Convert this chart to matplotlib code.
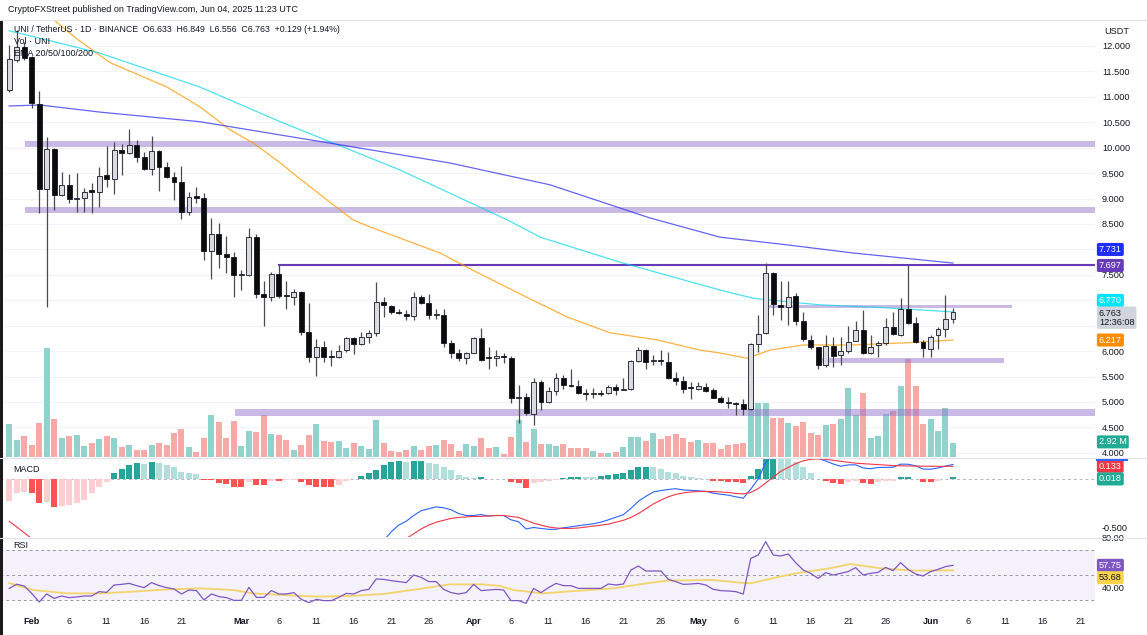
"""UNI/USDT daily chart, TradingView style: candles, volume, EMAs, zones, MACD and RSI."""

import matplotlib
matplotlib.use("Agg")
import matplotlib.pyplot as plt
import matplotlib.transforms as mtransforms
from matplotlib.patches import Rectangle
from matplotlib.lines import Line2D
import numpy as np
import pandas as pd

plt.rcParams.update({
    "font.family": ["Liberation Sans", "DejaVu Sans"],
    "font.size": 6.8,
})

W, H = 1147, 635
INK = "#131722"

# ── Data ────────────────────────────────────────────────────────────────
start = "2025-01-29"

opens = [11.14, 11.72, 11.98, 11.78, 10.86, 9.19, 9.97, 9.07, 9.27, 8.99,
         9.01, 9.16, 9.13, 9.46, 9.38, 9.95, 9.90, 10.05, 9.82, 9.58,
         9.94, 9.62, 9.42, 9.33, 8.74, 9.04, 9.02, 7.97, 8.30, 7.91,
         7.85, 7.49, 7.50, 8.25, 7.12, 7.06, 7.52, 7.10, 7.06, 7.16,
         6.38, 5.88, 6.08, 5.90, 5.88, 6.02, 6.26, 6.14, 6.28, 6.36,
         6.97, 6.89, 6.77, 6.73, 6.69, 7.06, 6.95, 6.71, 6.71, 6.16,
         5.96, 5.86, 5.96, 6.26, 5.88, 5.86, 5.90, 5.86, 5.07, 5.10,
         4.76, 5.40, 5.00, 5.22, 5.48, 5.33, 5.32, 5.17, 5.15, 5.18,
         5.17, 5.30, 5.24, 5.25, 5.81, 6.02, 5.80, 5.82, 5.79, 5.48,
         5.42, 5.30, 5.25, 5.30, 5.24, 5.07, 5.00, 4.97, 4.95, 4.87,
         6.14, 6.36, 7.54, 6.91, 6.87, 7.08, 6.59, 6.22, 6.08, 5.73,
         6.10, 5.92, 6.00, 6.20, 6.42, 5.96, 6.12, 6.16, 6.47, 6.32,
         6.83, 6.55, 6.18, 6.04, 6.32, 6.43, 6.633]
highs = [12.02, 12.31, 12.08, 11.80, 11.12, 10.21, 9.99, 9.52, 9.48, 9.50,
         9.21, 9.31, 9.62, 10.03, 10.11, 10.07, 10.37, 10.15, 9.92, 10.23,
         9.96, 9.72, 9.52, 9.64, 9.13, 9.23, 9.11, 8.62, 8.52, 8.26,
         7.95, 7.60, 8.42, 8.30, 7.38, 7.56, 7.69, 7.38, 7.22, 7.18,
         6.95, 6.24, 6.20, 6.02, 6.12, 6.28, 6.28, 6.37, 6.42, 7.36,
         7.06, 6.91, 6.83, 6.81, 7.16, 7.11, 7.13, 6.82, 6.82, 6.22,
         6.05, 5.99, 6.28, 6.45, 6.08, 6.02, 5.96, 5.90, 5.33, 5.18,
         5.47, 5.43, 5.29, 5.56, 5.53, 5.64, 5.43, 5.25, 5.27, 5.24,
         5.33, 5.35, 5.48, 5.83, 6.09, 6.04, 5.92, 6.02, 5.99, 5.59,
         5.51, 5.40, 5.40, 5.37, 5.27, 5.12, 5.09, 4.99, 5.05, 6.15,
         6.71, 7.73, 7.56, 7.38, 7.37, 7.15, 6.77, 6.32, 6.09, 6.32,
         6.28, 6.27, 6.49, 6.60, 6.81, 6.32, 6.19, 6.66, 6.77, 7.04,
         7.69, 6.68, 6.22, 6.32, 6.48, 7.10, 6.849]
lows = [11.09, 11.69, 11.72, 10.78, 8.72, 6.87, 8.77, 9.05, 8.91, 8.74,
        8.74, 8.72, 8.83, 9.23, 9.09, 9.46, 9.88, 9.72, 9.56, 9.46,
        9.15, 9.40, 8.97, 8.60, 8.68, 8.91, 7.79, 7.42, 7.63, 7.54,
        7.06, 7.20, 7.48, 7.05, 6.50, 6.98, 7.04, 6.83, 6.90, 6.32,
        5.79, 5.51, 5.79, 5.70, 5.86, 5.98, 5.94, 6.12, 6.16, 6.30,
        6.68, 6.72, 6.72, 6.62, 6.61, 6.93, 6.64, 6.63, 6.08, 5.86,
        5.80, 5.74, 5.96, 5.80, 5.65, 5.70, 5.77, 4.98, 4.58, 4.74,
        4.55, 4.84, 4.97, 5.14, 5.25, 5.30, 5.16, 5.04, 5.07, 5.12,
        5.16, 5.14, 5.23, 5.24, 5.78, 5.64, 5.73, 5.73, 5.46, 5.33,
        5.17, 5.05, 5.23, 5.20, 5.07, 4.97, 4.89, 4.74, 4.74, 4.85,
        5.99, 6.34, 6.71, 6.61, 6.51, 6.51, 6.20, 6.05, 5.64, 5.68,
        5.68, 5.73, 5.96, 6.19, 5.94, 5.94, 5.88, 6.12, 6.32, 6.30,
        6.53, 6.15, 5.89, 5.88, 6.05, 6.28, 6.556]
closes = [11.74, 11.98, 11.76, 10.88, 9.19, 9.97, 9.07, 9.27, 8.99, 9.01,
          9.13, 9.13, 9.44, 9.38, 9.95, 9.90, 10.05, 9.82, 9.58, 9.94,
          9.62, 9.42, 9.33, 8.74, 9.03, 9.02, 7.97, 8.30, 7.91, 7.85,
          7.50, 7.51, 8.25, 7.12, 7.06, 7.52, 7.08, 7.08, 7.16, 6.38,
          5.88, 6.08, 5.88, 5.88, 6.00, 6.26, 6.14, 6.28, 6.36, 6.97,
          6.91, 6.77, 6.75, 6.69, 7.06, 6.95, 6.71, 6.73, 6.16, 5.96,
          5.86, 5.96, 6.26, 5.83, 5.86, 5.90, 5.88, 5.08, 5.10, 4.78,
          5.40, 5.00, 5.22, 5.48, 5.33, 5.31, 5.17, 5.15, 5.17, 5.16,
          5.29, 5.24, 5.26, 5.81, 6.02, 5.79, 5.82, 5.80, 5.48, 5.42,
          5.25, 5.28, 5.31, 5.22, 5.08, 4.99, 4.98, 4.95, 4.87, 6.13,
          6.34, 7.54, 6.93, 6.87, 7.06, 6.59, 6.24, 6.08, 5.73, 6.10,
          5.90, 6.00, 6.18, 6.42, 5.96, 6.08, 6.15, 6.47, 6.34, 6.83,
          6.55, 6.18, 6.06, 6.28, 6.43, 6.63, 6.763]
volume_m = [6.88, 3.55, 4.38, 2.50, 7.09, 22.7, 7.93, 3.96, 4.38, 4.59,
            2.29, 2.92, 3.75, 4.38, 3.96, 2.09, 2.50, 1.46, 1.46, 2.50,
            2.92, 2.50, 5.01, 5.84, 2.09, 1.04, 3.96, 8.76, 7.30, 3.96,
            7.51, 2.29, 5.42, 5.22, 8.76, 4.80, 4.59, 3.55, 1.46, 2.50,
            4.59, 6.88, 3.34, 3.13, 3.34, 1.88, 2.92, 2.29, 1.67, 7.72,
            2.92, 1.25, 1.04, 1.46, 2.29, 1.46, 2.29, 2.50, 3.55, 2.71,
            1.25, 2.71, 2.29, 3.96, 1.88, 2.09, 0.63, 4.17, 7.72, 3.13,
            5.84, 2.71, 2.71, 2.29, 2.71, 1.88, 1.88, 1.88, 1.25, 0.83,
            0.83, 1.04, 2.09, 4.17, 4.17, 3.34, 5.01, 3.75, 4.38, 4.80,
            3.96, 3.13, 3.55, 2.92, 2.92, 1.67, 2.50, 2.71, 2.92, 11.26,
            11.26, 11.26, 8.14, 8.14, 7.09, 6.47, 7.30, 5.01, 4.59, 6.68,
            6.88, 7.93, 14.39, 8.76, 13.35, 3.96, 4.38, 8.97, 9.60, 14.81,
            20.44, 14.81, 6.88, 7.93, 5.42, 10.22, 2.92]

macd_hist = [-0.23, -0.15, -0.13, -0.15, -0.25, -0.24, -0.29, -0.28, -0.27, -0.25,
             -0.22, -0.15, -0.08, -0.03, 0.06, 0.10, 0.146, 0.163, 0.156, 0.177,
             0.163, 0.146, 0.122, 0.07, 0.059, 0.05, -0.005, -0.01, -0.045, -0.05,
             -0.08, -0.08, -0.03, -0.06, -0.063, -0.02, -0.02, -0.015, -0.01, -0.03,
             -0.065, -0.08, -0.08, -0.08, -0.06, -0.02, 0.005, 0.03, 0.06, 0.094,
             0.146, 0.18, 0.187, 0.18, 0.187, 0.19, 0.17, 0.156, 0.128, 0.094,
             0.042, 0.017, 0.007, 0.017, 0.0, 0.003, 0.002, -0.035, -0.045, -0.09,
             -0.045, -0.035, -0.024, -0.014, 0.007, 0.017, 0.024, 0.024, 0.024, 0.031,
             0.045, 0.052, 0.059, 0.094, 0.128, 0.13, 0.125, 0.10, 0.076, 0.059,
             0.031, 0.017, 0.007, 0.002, -0.017, -0.024, -0.028, -0.035, -0.045, 0.035,
             0.10, 0.215, 0.23, 0.22, 0.215, 0.18, 0.128, 0.066, 0.003, -0.017,
             -0.038, -0.052, -0.028, -0.017, -0.045, -0.048, -0.03, -0.024, -0.017, 0.017,
             0.018, 0.003, -0.03, -0.031, -0.017, 0.003, 0.018]
macd_line = [-0.67, -0.65, -0.69, -0.77, -0.93, -0.98, -1.09, -1.13, -1.16, -1.18,
             -1.18, -1.13, -1.07, -1.02, -0.92, -0.86, -0.78, -0.73, -0.69, -0.63,
             -0.62, -0.61, -0.62, -0.66, -0.66, -0.67, -0.725, -0.74, -0.785, -0.81,
             -0.86, -0.88, -0.85, -0.89, -0.91, -0.89, -0.90, -0.905, -0.91, -0.94,
             -0.985, -1.02, -1.04, -1.06, -1.05, -1.01, -0.965, -0.91, -0.84, -0.756,
             -0.64, -0.55, -0.48, -0.44, -0.38, -0.33, -0.31, -0.29, -0.30, -0.32,
             -0.36, -0.38, -0.38, -0.37, -0.385, -0.38, -0.38, -0.425, -0.445, -0.52,
             -0.505, -0.515, -0.524, -0.524, -0.508, -0.498, -0.486, -0.476, -0.466, -0.449,
             -0.425, -0.398, -0.371, -0.306, -0.232, -0.18, -0.135, -0.12, -0.109, -0.101,
             -0.114, -0.118, -0.123, -0.128, -0.147, -0.159, -0.168, -0.185, -0.20, -0.105,
             0.0, 0.175, 0.25, 0.30, 0.335, 0.34, 0.318, 0.271, 0.213, 0.188,
             0.157, 0.133, 0.147, 0.148, 0.115, 0.107, 0.12, 0.121, 0.123, 0.155,
             0.154, 0.138, 0.104, 0.102, 0.115, 0.135, 0.151]
signal_line = [-0.44, -0.50, -0.56, -0.62, -0.68, -0.74, -0.80, -0.85, -0.89, -0.93,
               -0.96, -0.98, -0.99, -0.99, -0.98, -0.96, -0.93, -0.89, -0.85, -0.81,
               -0.78, -0.76, -0.74, -0.73, -0.72, -0.72, -0.72, -0.73, -0.74, -0.76,
               -0.78, -0.80, -0.82, -0.83, -0.85, -0.87, -0.88, -0.89, -0.90, -0.91,
               -0.92, -0.94, -0.96, -0.98, -0.99, -0.99, -0.97, -0.94, -0.90, -0.85,
               -0.79, -0.73, -0.67, -0.62, -0.57, -0.52, -0.48, -0.45, -0.43, -0.41,
               -0.40, -0.395, -0.39, -0.39, -0.385, -0.38, -0.38, -0.39, -0.40, -0.43,
               -0.46, -0.48, -0.50, -0.51, -0.515, -0.515, -0.51, -0.50, -0.49, -0.48,
               -0.47, -0.45, -0.43, -0.40, -0.36, -0.31, -0.26, -0.22, -0.185, -0.16,
               -0.145, -0.135, -0.13, -0.13, -0.13, -0.135, -0.14, -0.15, -0.155, -0.14,
               -0.10, -0.04, 0.02, 0.08, 0.12, 0.16, 0.19, 0.205, 0.21, 0.205,
               0.195, 0.185, 0.175, 0.165, 0.16, 0.155, 0.15, 0.145, 0.14, 0.138,
               0.136, 0.135, 0.134, 0.133, 0.132, 0.132, 0.133]

rsi = [39.3, 42.6, 41.2, 35.3, 28.4, 34.8, 31.3, 33.2, 31.9, 32.4,
       33.2, 33.2, 36.7, 36.1, 42.0, 42.5, 43.3, 41.5, 39.9, 43.9,
       41.5, 39.9, 38.8, 34.8, 38.0, 37.5, 30.0, 34.8, 32.7, 31.9,
       29.7, 29.7, 40.1, 32.1, 32.1, 37.5, 34.8, 34.8, 35.9, 30.5,
       27.9, 30.5, 29.5, 29.5, 32.1, 35.3, 34.8, 37.5, 38.5, 46.8,
       46.5, 45.5, 44.7, 43.9, 50.0, 48.1, 44.7, 44.7, 38.5, 35.9,
       34.8, 35.9, 42.5, 37.5, 38.0, 38.5, 38.0, 29.5, 29.5, 27.3,
       39.3, 35.9, 39.9, 43.3, 41.5, 41.5, 39.3, 39.3, 39.3, 39.3,
       42.8, 42.0, 42.8, 54.0, 57.2, 53.2, 53.2, 53.2, 46.5, 44.7,
       42.5, 42.8, 43.3, 42.0, 38.5, 37.5, 37.2, 36.7, 34.8, 63.3,
       66.0, 76.7, 66.0, 65.2, 66.8, 59.9, 54.0, 51.3, 47.3, 51.9,
       50.0, 51.3, 52.7, 55.9, 50.0, 51.3, 52.1, 56.1, 53.5, 59.9,
       54.5, 50.8, 49.2, 52.7, 54.5, 56.7, 57.75]

# RSI-based MA, sampled along the line (x = candle index)
rsi_ma_x = [0, 3.2, 7.7, 12.1, 16.5, 21.1, 25.5, 29.9, 32.5, 36.5, 41.1, 45.5,
            49.9, 54.4, 58.8, 63.2, 65.5, 67.3, 71.2, 76.2, 80.6, 85.1, 87.8,
            93.9, 97.6, 98.9, 102.9, 105.6, 109.6, 112.3, 116.3, 120.7, 126]
rsi_ma = [43.5, 38.0, 35.3, 35.3, 36.7, 38.5, 39.3, 38.0, 35.3, 34.0, 32.7, 33.2,
          34.8, 38.5, 42.5, 42.5, 41.2, 38.0, 35.3, 37.5, 39.3, 43.3, 45.5,
          46.0, 43.9, 43.3, 48.7, 51.9, 55.4, 58.8, 55.4, 53.5, 53.68]

# EMA lines, sampled along the curves (x = candle index)
ema50_x = [4.0, 9.2, 13.5, 21.1, 25.5, 29.5, 32.6, 36.2, 38.8, 42.8, 45.9, 48.2,
           57.5, 61.9, 69.9, 74.5, 80.2, 86.5, 92.2, 95.0, 98.5, 101.6, 106.0,
           112.6, 119.3, 126]
ema50 = [12.75, 12.12, 11.67, 11.19, 10.80, 10.35, 10.09, 9.70, 9.39, 8.93, 8.58,
         8.44, 7.93, 7.59, 7.00, 6.67, 6.36, 6.22, 6.02, 5.96, 5.86, 6.02, 6.12,
         6.12, 6.16, 6.217]
ema100_x = [0, 5.0, 12.1, 25.5, 36.2, 52.2, 66.5, 70.9, 81.5, 94.9, 99.3, 103.8,
            108.2, 117.2, 126]
ema100 = [12.30, 12.12, 11.86, 11.19, 10.51, 9.56, 8.58, 8.24, 7.75, 7.20, 7.04,
          6.97, 6.91, 6.85, 6.770]
ema200_x = [0, 4.1, 12.1, 25.5, 36.2, 42.8, 58.8, 72.2, 85.5, 94.9, 103.8, 112.6, 126]
ema200 = [10.82, 10.84, 10.70, 10.51, 10.25, 10.09, 9.70, 9.27, 8.62, 8.24, 8.09,
          7.93, 7.731]

# Support / resistance boxes (price range, candle-index span)
zone_lo = [10.01, 8.71, 4.72, 6.85, 5.76]
zone_hi = [10.14, 8.84, 4.855, 6.91, 5.86]
zone_from = [2.1, 2.1, 30.1, 101.3, 108.5]
zone_to = [145.0, 145.0, 145.0, 133.9, 132.8]
resistance = 7.697
resistance_from = 35.9

# right-hand price scale (8.000, 7.000 and 6.500 sit under the value tags)
price_ticks = [4.0, 4.5, 5.0, 5.5, 6.0, 7.5, 8.5, 9.0, 9.5,
               10.0, 10.5, 11.0, 11.5, 12.0]

tick_dates = ["2025-02-01", "2025-02-06", "2025-02-11", "2025-02-16", "2025-02-21",
              "2025-03-01", "2025-03-06", "2025-03-11", "2025-03-16", "2025-03-21",
              "2025-03-26", "2025-04-01", "2025-04-06", "2025-04-11", "2025-04-16",
              "2025-04-21", "2025-04-26", "2025-05-01", "2025-05-06", "2025-05-11",
              "2025-05-16", "2025-05-21", "2025-05-26", "2025-06-01", "2025-06-06",
              "2025-06-11", "2025-06-16", "2025-06-21"]

# ── Derived ────────────────────────────────────────────────────────────
o, h, l, c = (np.array(v) for v in (opens, highs, lows, closes))
x = np.arange(len(c))
dates = pd.date_range(start, periods=len(c), freq="D")
tick_dt = pd.to_datetime(tick_dates)
tick_pos = (tick_dt - dates[0]).days
tick_lab = [d.strftime("%b") if d.day == 1 else str(d.day) for d in tick_dt]
up = c >= o

hist = np.array(macd_hist)
hist_col = []
for i, v in enumerate(hist):
    prev = hist[i - 1] if i else v
    if v >= 0:
        hist_col.append("#26a69a" if v > prev else "#b2dfdb")
    else:
        hist_col.append("#ffcdd2" if v > prev or i == 0 else "#ff5252")

XLIM = (-1.23, 144.96)
PLOT_RIGHT = 1095


def rect(top, bottom):
    return [0, 1 - bottom / H, PLOT_RIGHT / W, (bottom - top) / H]


def tag(axis, y, text, fc, tc="white", dy=0.0, z=10):
    axis.annotate(text, xy=(1, y), xycoords=axis.get_yaxis_transform(),
                  xytext=(2.8, dy), textcoords="offset points",
                  ha="left", va="center", fontsize=6.6, color=tc,
                  linespacing=1.05, annotation_clip=False, zorder=z,
                  bbox=dict(boxstyle="round,pad=0.22,rounding_size=0.2",
                            fc=fc, ec="none"))


def clean(axis):
    for s in axis.spines.values():
        s.set_visible(False)
    axis.set_xlim(*XLIM)
    axis.tick_params(axis="both", length=0, labelsize=6.6, labelcolor=INK)


# ── Figure ─────────────────────────────────────────────────────────────
fig = plt.figure(figsize=(W / 100, H / 100), dpi=100)
fig.patch.set_facecolor("white")

# price pane + volume
ax = fig.add_axes(rect(20, 457))
axv = ax.twinx()
ax.set_zorder(axv.get_zorder() + 1)
ax.patch.set_visible(False)
clean(ax)
clean(axv)
ax.set_ylim(3.917, 12.511)
axv.set_ylim(0, 91.2)
axv.set_yticks([])
ax.set_xticks([])
ax.yaxis.tick_right()
ax.set_yticks(price_ticks)
ax.set_yticklabels([f"{v:.3f}" for v in price_ticks])
ax.tick_params(axis="y", pad=5)

grid_tr = mtransforms.blended_transform_factory(axv.transAxes, ax.transData)
for p in np.arange(4.0, 12.01, 0.5):
    axv.plot([0, 1], [p, p], color="#f0f3fa", lw=0.8, transform=grid_tr, zorder=0)

axv.bar(x, volume_m, width=0.8, color=np.where(up, "#92d2cc", "#f7a9a7"), zorder=1)

for lo, hi, x0, x1 in zip(zone_lo, zone_hi, zone_from, zone_to):
    ax.add_patch(Rectangle((x0, lo), x1 - x0, hi - lo, color="#9575cd",
                           alpha=0.5, lw=0, zorder=1))
ax.hlines(resistance, resistance_from, XLIM[1], color="#673ab7", lw=1.5, zorder=2)

ax.plot(ema50_x, ema50, color="#ff9800", lw=0.9, alpha=0.75, zorder=2)
ax.plot(ema100_x, ema100, color="#00d5ea", lw=0.9, alpha=0.7, zorder=2)
ax.plot(ema200_x, ema200, color="#3030ee", lw=0.9, alpha=0.75, zorder=2)

ax.vlines(x, l, h, color="#4a4a4a", lw=0.9, zorder=3)
body_lo = np.minimum(o, c)
body_h = np.maximum(np.abs(c - o), 0.02)
ax.bar(x, body_h, bottom=body_lo, width=0.66,
       color=np.where(up, "#d9dbe0", "#0b0b0b"), edgecolor="#131722",
       linewidth=0.6, zorder=4)

tag(ax, 7.731, "7.731", "#1f2cff", dy=9.8)
tag(ax, 7.697, "7.697", "#673ab7", dy=-0.5)
tag(ax, 6.770, "6.770", "#00e5ff", dy=8.3)
tag(ax, 6.763, "6.763\n12:36:08", "#d1d4dc", tc=INK, dy=-3.9)
tag(ax, 6.217, "6.217", "#fb8c00")
tag(axv, 2.92, "2.92 M", "#22ab94", dy=0.8)

# MACD pane
axm = fig.add_axes(rect(458, 537))
clean(axm)
axm.set_ylim(-0.604, 0.219)
axm.set_xticks([])
axm.yaxis.tick_right()
axm.set_yticks([-0.5])
axm.set_yticklabels(["-0.500"])
axm.tick_params(axis="y", pad=5)
axm.axhline(0, color="#b2b5be", lw=0.7, ls=(0, (3, 3)), zorder=0)
axm.bar(x, hist, width=0.8, color=hist_col, zorder=1)
axm.plot(x, macd_line, color="#2962ff", lw=0.8, zorder=2)
axm.plot(x, signal_line, color="#f23645", lw=0.8, zorder=2)
tag(axm, 0.133, "0.133", "#f23645")
tag(axm, 0.018, "0.018", "#22ab94", dy=-1.2)
# sliver of the MACD-line tag peeking out above the signal tag
fig.add_artist(Rectangle((1096 / W, 1 - 460.5 / H), 32 / W, 2.5 / H,
                         transform=fig.transFigure, color="#2962ff", lw=0))

# RSI pane
axr = fig.add_axes(rect(537, 609))
clean(axr)
axr.set_ylim(22.8, 80.4)
axr.axhspan(30, 70, color="#7e57c2", alpha=0.08, lw=0, zorder=0)
for lv in (70, 50, 30):
    axr.axhline(lv, color="#9598a1", lw=0.7, ls=(0, (3, 3)), zorder=1)
axr.plot(rsi_ma_x, rsi_ma, color="#f3d36b", lw=1.3, zorder=2)
axr.plot(x, rsi, color="#7e57c2", lw=0.9, zorder=3)
axr.yaxis.tick_right()
axr.set_yticks([80, 40])
axr.set_yticklabels(["80.00", "40.00"])
axr.tick_params(axis="y", pad=5)
axr.set_xticks(tick_pos)
axr.set_xticklabels(tick_lab)
axr.tick_params(axis="x", pad=6)
for t in axr.get_xticklabels():
    if not t.get_text().isdigit():
        t.set_fontweight("bold")
tag(axr, 57.75, "57.75", "#7e57c2")
tag(axr, 53.68, "53.68", "#f7d44c", tc=INK, dy=-5.3)

# separators, edge and header texts
for yy in (19.5, 457.5, 537.5):
    fig.add_artist(Line2D([0, 1], [1 - yy / H] * 2, color="#e0e3eb", lw=0.8,
                          transform=fig.transFigure))
fig.add_artist(Rectangle((0, 0), 2.5 / W, 1 - 19.5 / H, transform=fig.transFigure,
                         color="#1a1a1a", lw=0))


def ftext(px, py, s, **kw):
    fig.text(px / W, 1 - py / H, s, va="center", ha="left", color=INK, **kw)


ftext(8, 10, "CryptoFXStreet published on TradingView.com, Jun 04, 2025 11:23 UTC",
      fontsize=6.45)
ftext(14, 29, "UNI / TetherUS · 1D · BINANCE  O6.633  H6.849  L6.556  C6.763  "
      "+0.129 (+1.94%)", fontsize=6.3)
ftext(14, 41, "Vol · UNI", fontsize=6.5)
ftext(14, 53, "EMA 20/50/100/200", fontsize=6.5)
ftext(13, 469, "MACD", fontsize=6.5)
ftext(13, 545, "RSI", fontsize=6.5)
ftext(1104, 31, "USDT", fontsize=6.6)

fig.savefig("out.png", dpi=100)
